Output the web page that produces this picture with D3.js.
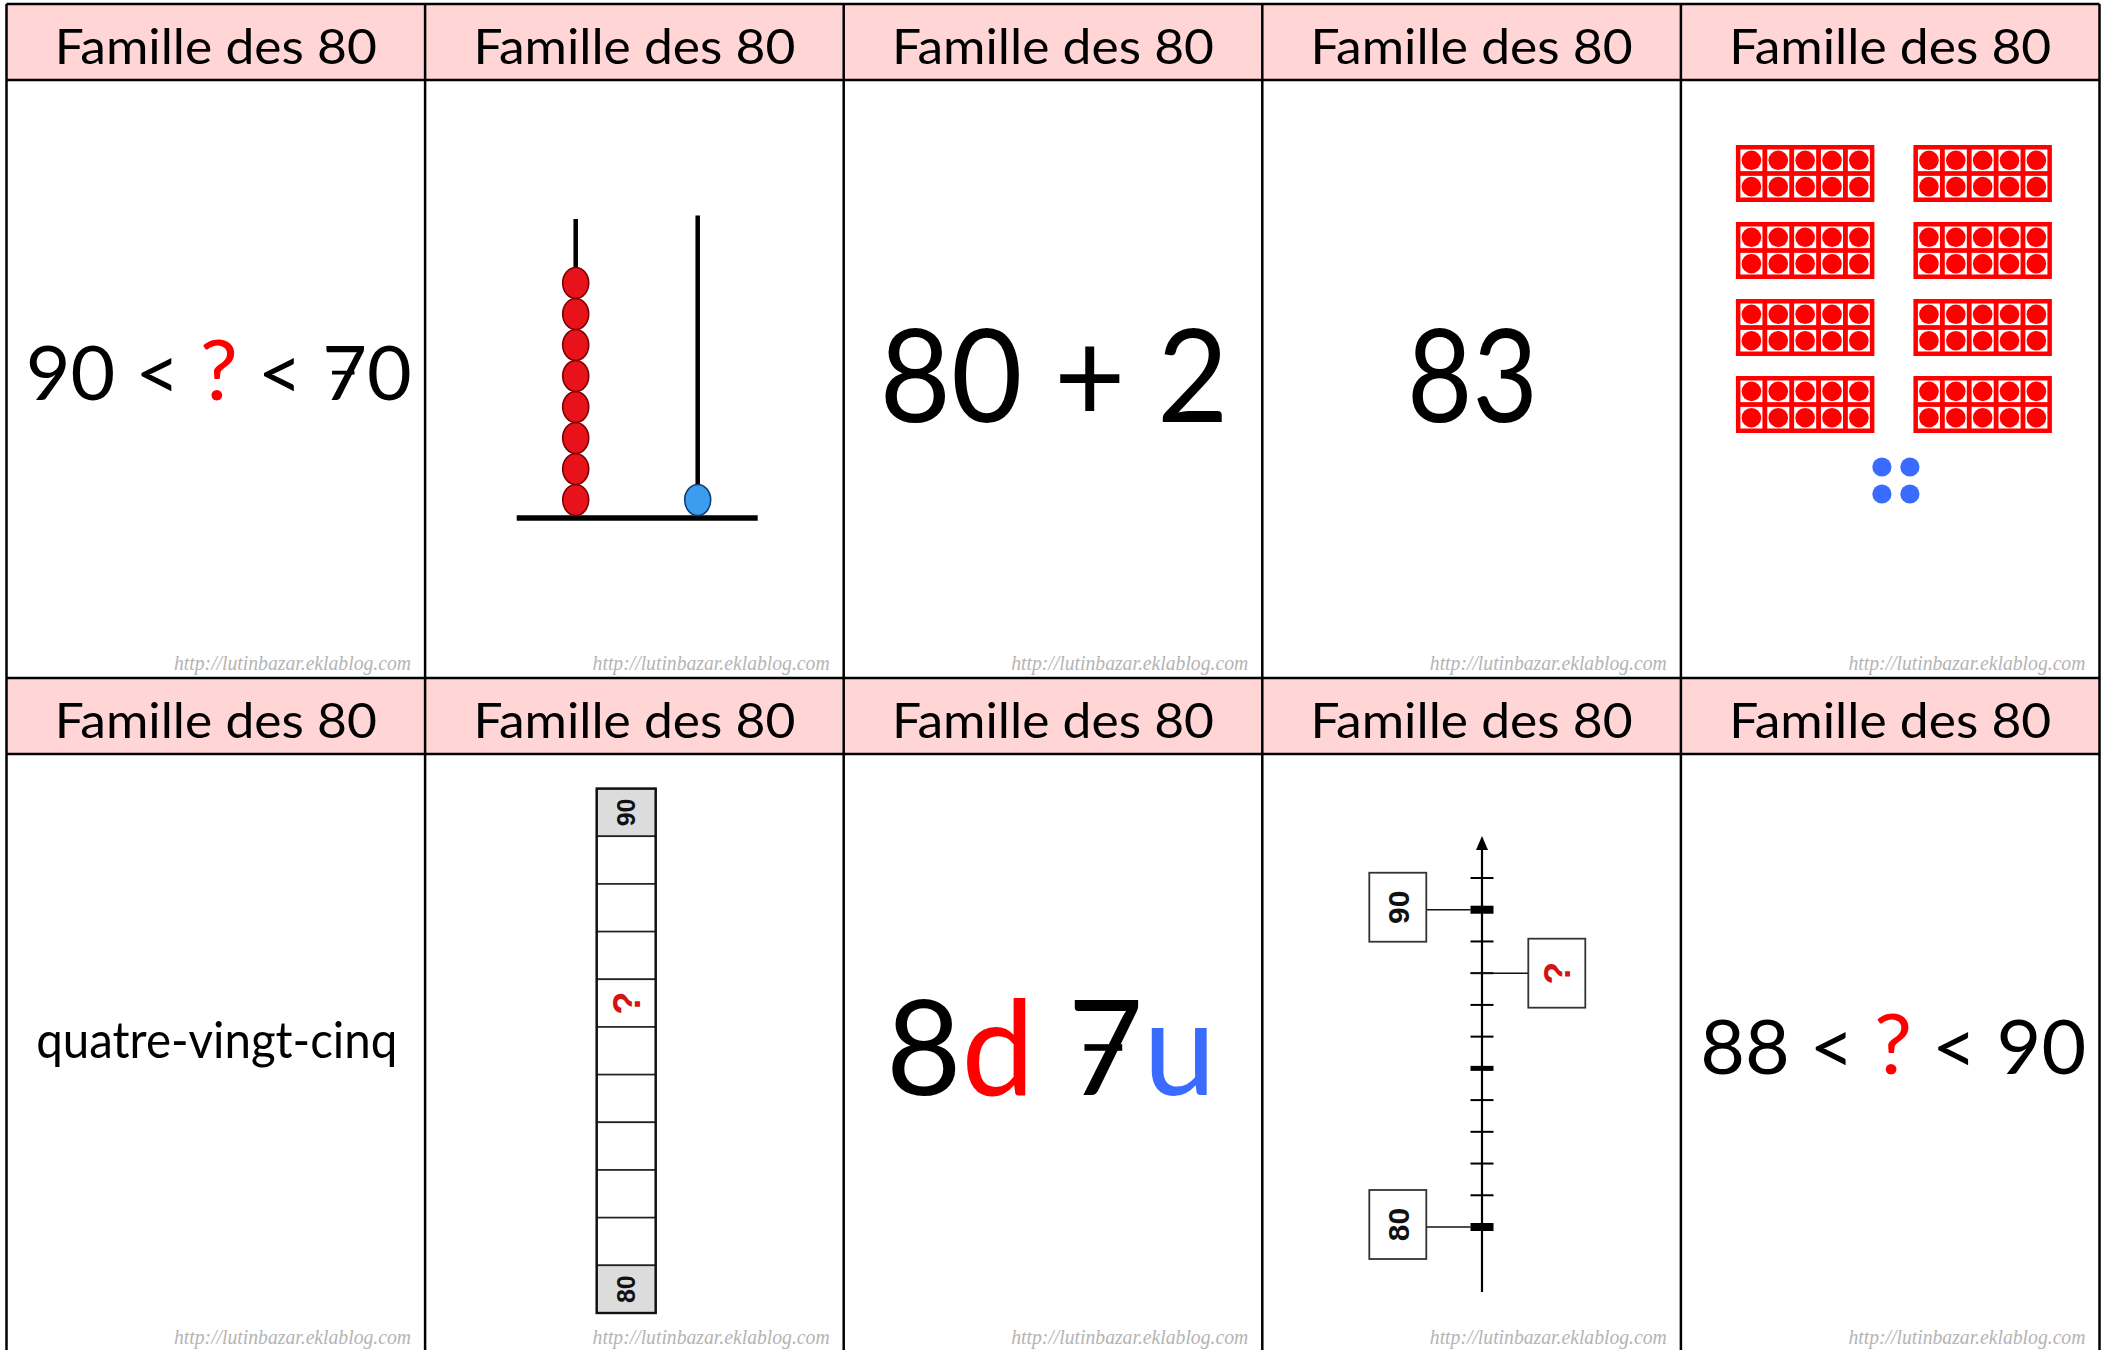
<!DOCTYPE html>
<html>
<head>
<meta charset="utf-8">
<script src="https://cdn.jsdelivr.net/npm/d3@7"></script>
<style>
body { margin: 0; background: #fff; }
svg { display: block; }
</style>
</head>
<body>
<svg width="2109" height="1350"></svg>
<script>
// contenu des cartes
var headerTitle = "Famille des 80";
var siteText = "http://lutinbazar.eklablog.com";
var cardKinds = ["ineq", "abacus", "sum", "number", "frames",
                 "word", "strip", "split", "line", "ineq"];
var ineqBounds = [["90", "70"], ["88", "90"]];
var sumTerms = ["80", "2"];
var numberShown = "83";
var numberWord = "quatre-vingt-cinq";
var abacusBeads = [8, 1];            // dizaines, unités
var tenFrames = [10, 10, 10, 10, 10, 10, 10, 10];
var looseUnits = 4;
var stripLabels = ["90", "", "", "", "?", "", "", "", "", "", "80"];
var lineTicks = [80, 81, 82, 83, 84, 85, 86, 87, 88, 89, 90, 91];
var lineMajor = [80, 85, 90];
var lineLabels = [
  {v: 90, t: "90", side: "left"},
  {v: 88, t: "?", side: "right"},
  {v: 80, t: "80", side: "left"}
];
var splitParts = [["8", "d"], ["7", "u"]];

var svg = d3.select("svg");
var FONT = "Lato, 'Open Sans', sans-serif";
var RED = "#ff0000", BLUE = "#3a6bff";

var x = d3.scaleBand().domain(d3.range(5)).range([6.5, 2099.5]);
var y = d3.scaleBand().domain(d3.range(2)).range([4, 1352]);
var cw = x.bandwidth(), ch = y.bandwidth(), headH = 76;

var cards = svg.selectAll("g.card")
  .data(cardKinds)
  .enter().append("g")
  .attr("class", "card")
  .attr("transform", function(d, i) {
    return "translate(" + x(i % 5) + "," + y(Math.floor(i / 5)) + ")";
  });

cards.append("rect").attr("width", cw).attr("height", ch).attr("fill", "#fff");
cards.append("rect").attr("width", cw).attr("height", headH).attr("fill", "#ffd5d5");

cards.append("text")
  .attr("x", cw / 2).attr("y", 60)
  .attr("text-anchor", "middle")
  .attr("font-family", FONT).attr("font-size", 48)
  .attr("textLength", 322).attr("lengthAdjust", "spacingAndGlyphs")
  .attr("fill", "#000")
  .text(headerTitle);

cards.append("text")
  .attr("x", 286).attr("y", 666)
  .attr("text-anchor", "middle")
  .attr("font-family", "'Liberation Serif', serif").attr("font-style", "italic")
  .attr("font-size", 21)
  .attr("textLength", 237).attr("lengthAdjust", "spacingAndGlyphs")
  .attr("fill", "#b4b4b4")
  .text(siteText);

// barre du 7 à la française
function crossSeven(g, txt, baseline, size) {
  var node = txt.node();
  var s = node.textContent;
  for (var k = 0; k < s.length; k++) {
    if (s[k] !== "7") continue;
    var e = node.getExtentOfChar(k);
    var bw = e.width * 0.5;
    g.append("rect")
      .attr("x", e.x + e.width / 2 - bw / 2 - e.width * 0.03)
      .attr("y", baseline - size * 0.36 - size * 0.025)
      .attr("width", bw)
      .attr("height", size * 0.05)
      .attr("fill", "#000");
  }
}

var ineqIndex = 0;
cards.each(function(kind, i) {
  var g = d3.select(this);

  if (kind === "ineq") {
    var b = ineqBounds[ineqIndex++];
    var t = g.append("text")
      .attr("x", cw / 2 + 3).attr("y", 396)
      .attr("text-anchor", "middle")
      .attr("font-family", FONT).attr("font-size", 76)
      .attr("textLength", 386).attr("lengthAdjust", "spacingAndGlyphs");
    t.append("tspan").text(b[0] + " < ");
    t.append("tspan").attr("fill", RED).attr("font-size", 84).text("?");
    t.append("tspan").text(" < " + b[1]);
    crossSeven(g, t, 396, 76);
  }

  if (kind === "sum") {
    g.append("text")
      .attr("x", cw / 2 + 1).attr("y", 418)
      .attr("text-anchor", "middle")
      .attr("font-family", FONT).attr("font-size", 130)
      .attr("textLength", 349).attr("lengthAdjust", "spacingAndGlyphs")
      .text(sumTerms[0] + " + " + sumTerms[1]);
  }

  if (kind === "number") {
    g.append("text")
      .attr("x", cw / 2 + 1).attr("y", 418)
      .attr("text-anchor", "middle")
      .attr("font-family", FONT).attr("font-size", 130)
      .attr("textLength", 131).attr("lengthAdjust", "spacingAndGlyphs")
      .text(numberShown);
  }

  if (kind === "word") {
    g.append("text")
      .attr("x", cw / 2 + 1).attr("y", 380)
      .attr("text-anchor", "middle")
      .attr("font-family", FONT).attr("font-size", 51)
      .attr("textLength", 361).attr("lengthAdjust", "spacingAndGlyphs")
      .text(numberWord);
  }

  if (kind === "split") {
    var st = g.append("text")
      .attr("x", cw / 2 - 2).attr("y", 417)
      .attr("text-anchor", "middle")
      .attr("font-family", FONT).attr("font-size", 132)
      .attr("textLength", 330).attr("lengthAdjust", "spacingAndGlyphs");
    st.append("tspan").text(splitParts[0][0]);
    st.append("tspan").attr("fill", RED).text(splitParts[0][1]);
    st.append("tspan").text(" " + splitParts[1][0]);
    st.append("tspan").attr("fill", BLUE).text(splitParts[1][1]);
    crossSeven(g, st, 417, 132);
  }

  if (kind === "abacus") {
    var rodX = d3.scaleOrdinal().domain([0, 1]).range([150.6, 272.6]);
    var rodTop = [215, 211.5];
    var by = d3.scaleLinear().domain([0, 7]).range([496, 279]);
    var baseY = 514;
    g.selectAll("line.rod").data(abacusBeads).enter().append("line")
      .attr("x1", function(d, r) { return rodX(r); })
      .attr("x2", function(d, r) { return rodX(r); })
      .attr("y1", function(d, r) { return rodTop[r]; })
      .attr("y2", baseY)
      .attr("stroke", "#000").attr("stroke-width", 4.5);
    g.append("line")
      .attr("x1", 91.6).attr("x2", 332.6)
      .attr("y1", baseY).attr("y2", baseY)
      .attr("stroke", "#000").attr("stroke-width", 5.5);
    abacusBeads.forEach(function(n, r) {
      g.selectAll("ellipse.b" + r).data(d3.range(n)).enter().append("ellipse")
        .attr("class", "b" + r)
        .attr("cx", rodX(r)).attr("cy", function(k) { return by(k); })
        .attr("rx", 13).attr("ry", 15.5)
        .attr("fill", r === 0 ? "#e8121a" : "#3b9cf0")
        .attr("stroke", r === 0 ? "#7a0000" : "#123a70")
        .attr("stroke-width", 1.6);
    });
  }

  if (kind === "frames") {
    var fx = d3.scaleBand().domain([0, 1]).range([55, 371]).paddingInner(0.22);
    var fy = d3.scaleBand().domain(d3.range(4)).range([141, 429]).paddingInner(0.26);
    var cx = d3.scaleBand().domain(d3.range(5)).range([4.5, fx.bandwidth() - 4.5]).paddingInner(0.18);
    var cy = d3.scaleBand().domain(d3.range(2)).range([4.5, fy.bandwidth() - 4.5]).paddingInner(0.18);
    var fr = g.selectAll("g.frame").data(tenFrames).enter().append("g")
      .attr("class", "frame")
      .attr("transform", function(d, k) {
        return "translate(" + fx(k % 2) + "," + fy(Math.floor(k / 2)) + ")";
      });
    fr.append("rect")
      .attr("width", fx.bandwidth()).attr("height", fy.bandwidth())
      .attr("fill", RED);
    fr.each(function(n) {
      var f = d3.select(this);
      var cells = d3.range(10);
      f.selectAll("rect.cell").data(cells).enter().append("rect")
        .attr("class", "cell")
        .attr("x", function(c) { return cx(c % 5); })
        .attr("y", function(c) { return cy(Math.floor(c / 5)); })
        .attr("width", cx.bandwidth()).attr("height", cy.bandwidth())
        .attr("fill", "#fff");
      f.selectAll("circle").data(d3.range(n)).enter().append("circle")
        .attr("cx", function(c) { return cx(c % 5) + cx.bandwidth() / 2; })
        .attr("cy", function(c) { return cy(Math.floor(c / 5)) + cy.bandwidth() / 2; })
        .attr("r", 9.8)
        .attr("fill", RED);
    });
    var ux = d3.scalePoint().domain([0, 1]).range([201, 229]);
    var uy = d3.scalePoint().domain([0, 1]).range([463, 490]);
    g.selectAll("circle.unit").data(d3.range(looseUnits)).enter().append("circle")
      .attr("class", "unit")
      .attr("cx", function(k) { return ux(k % 2); })
      .attr("cy", function(k) { return uy(Math.floor(k / 2)); })
      .attr("r", 9.6)
      .attr("fill", BLUE);
  }

  if (kind === "strip") {
    var sy = d3.scaleBand().domain(d3.range(stripLabels.length)).range([110.6, 635]);
    var sx = 171.6, sw = 59;
    var cell = g.selectAll("g.scell").data(stripLabels).enter().append("g")
      .attr("class", "scell")
      .attr("transform", function(d, k) { return "translate(" + sx + "," + sy(k) + ")"; });
    cell.append("rect")
      .attr("width", sw).attr("height", sy.bandwidth())
      .attr("fill", function(d) { return d !== "" && d !== "?" ? "#dcdcdc" : "#fff"; })
      .attr("stroke", "#222").attr("stroke-width", 1.6);
    cell.append("text")
      .attr("transform", "translate(" + (sw / 2) + "," + (sy.bandwidth() / 2) + ") rotate(-90)")
      .attr("text-anchor", "middle").attr("dy", "0.36em")
      .attr("font-family", "'Liberation Sans', Arial, sans-serif")
      .attr("font-weight", "bold")
      .attr("font-size", function(d) { return d === "?" ? 38 : 25; })
      .attr("fill", function(d) { return d === "?" ? "#d41414" : "#111"; })
      .text(function(d) { return d; });
    g.append("rect")
      .attr("x", sx).attr("y", 110.6)
      .attr("width", sw).attr("height", 635 - 110.6)
      .attr("fill", "none").attr("stroke", "#111").attr("stroke-width", 2.4);
  }

  if (kind === "line") {
    var ly = d3.scaleLinear().domain([80, 91]).range([549, 200]);
    var ax = 219.7, half = 11.5;
    g.append("line")
      .attr("x1", ax).attr("x2", ax).attr("y1", 614).attr("y2", 168)
      .attr("stroke", "#000").attr("stroke-width", 2.2);
    g.append("path")
      .attr("d", "M" + (ax - 6) + ",172L" + ax + ",158L" + (ax + 6) + ",172Z")
      .attr("fill", "#000");
    g.selectAll("line.tick").data(lineTicks.filter(function(v) { return lineMajor.indexOf(v) < 0; }))
      .enter().append("line")
      .attr("class", "tick")
      .attr("x1", ax - half).attr("x2", ax + half)
      .attr("y1", function(v) { return ly(v); }).attr("y2", function(v) { return ly(v); })
      .attr("stroke", "#000").attr("stroke-width", 2);
    g.selectAll("rect.major").data(lineMajor).enter().append("rect")
      .attr("class", "major")
      .attr("x", ax - half).attr("width", half * 2)
      .attr("y", function(v) { return ly(v) - (v % 10 === 0 ? 4 : 2.5); })
      .attr("height", function(v) { return v % 10 === 0 ? 8 : 5; })
      .attr("fill", "#000");
    var bw = 57, bh = 69;
    var lab = g.selectAll("g.lab").data(lineLabels).enter().append("g")
      .attr("class", "lab");
    lab.append("line")
      .attr("x1", function(d) { return d.side === "left" ? 164 : ax - half; })
      .attr("x2", function(d) { return d.side === "left" ? ax - half : 266; })
      .attr("y1", function(d) { return ly(d.v); })
      .attr("y2", function(d) { return ly(d.v); })
      .attr("stroke", "#111").attr("stroke-width", 1.6);
    lab.append("rect")
      .attr("x", function(d) { return d.side === "left" ? 107 : 266; })
      .attr("y", function(d) { return ly(d.v) - bh / 2 - (d.side === "left" ? 2.5 : 0); })
      .attr("width", bw).attr("height", bh)
      .attr("fill", "#fff").attr("stroke", "#333").attr("stroke-width", 1.8);
    lab.append("text")
      .attr("transform", function(d) {
        var cx0 = (d.side === "left" ? 107 : 266) + bw / 2;
        var cy0 = ly(d.v) - (d.side === "left" ? 2.5 : 0);
        return "translate(" + cx0 + "," + cy0 + ") rotate(-90)";
      })
      .attr("text-anchor", "middle").attr("dy", "0.36em")
      .attr("font-family", "'Liberation Sans', Arial, sans-serif")
      .attr("font-weight", "bold")
      .attr("font-size", function(d) { return d.t === "?" ? 37 : 30; })
      .attr("fill", function(d) { return d.t === "?" ? "#d41414" : "#111"; })
      .text(function(d) { return d.t; });
  }
});

// quadrillage des cartes
var xEdges = x.domain().map(function(c) { return x(c); }).concat([x.range()[1]]);
var yEdges = y.domain().map(function(r) { return y(r); });
svg.selectAll("line.vgrid").data(xEdges).enter().append("line")
  .attr("x1", function(d) { return d; }).attr("x2", function(d) { return d; })
  .attr("y1", y.range()[0]).attr("y2", y.range()[1])
  .attr("stroke", "#000").attr("stroke-width", 2.5);
svg.selectAll("line.hgrid").data(yEdges.concat(yEdges.map(function(d) { return d + headH; })))
  .enter().append("line")
  .attr("x1", x.range()[0]).attr("x2", x.range()[1])
  .attr("y1", function(d) { return d; }).attr("y2", function(d) { return d; })
  .attr("stroke", "#000").attr("stroke-width", 2.5);
</script>
</body>
</html>
